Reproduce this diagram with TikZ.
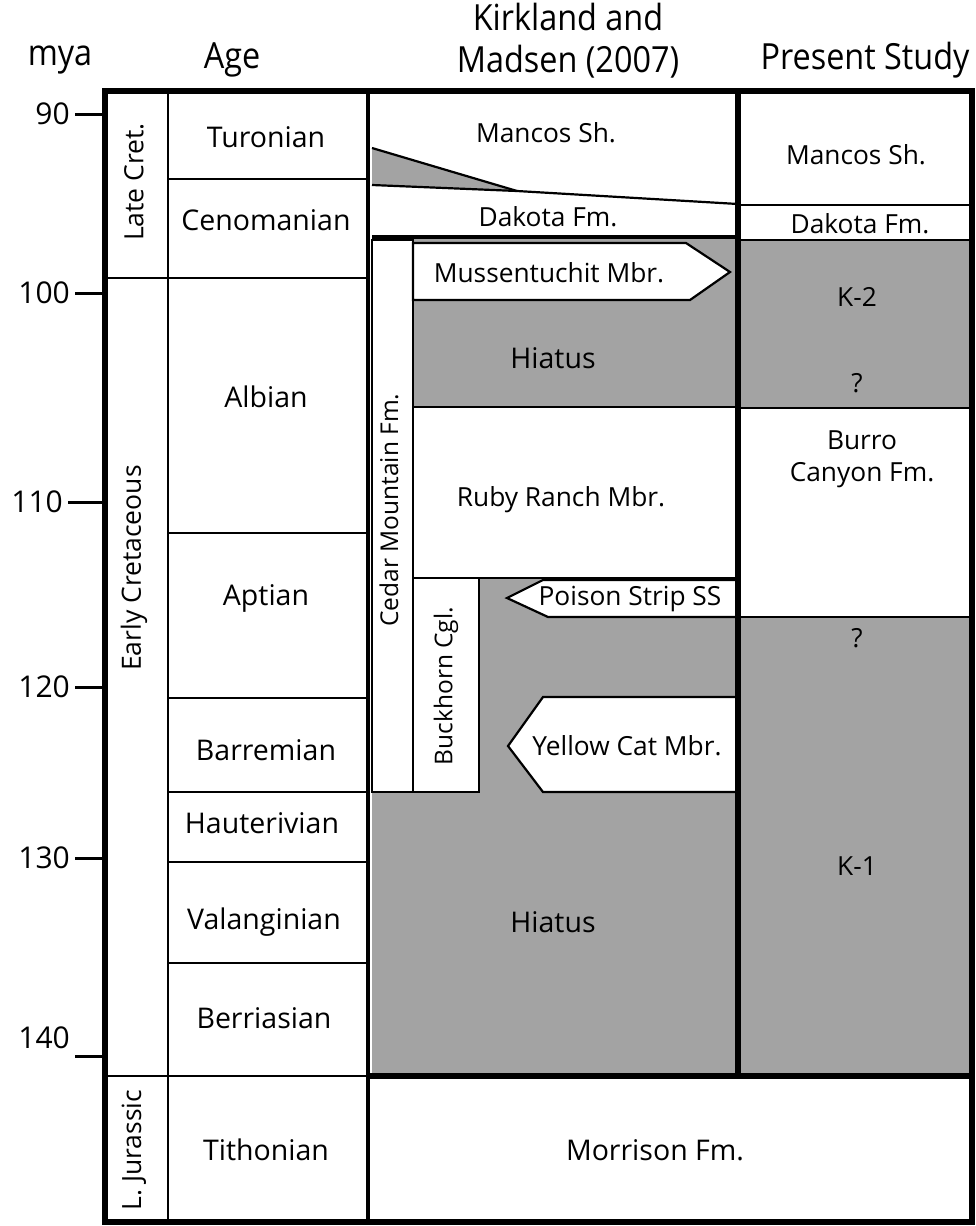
\documentclass[tikz,border=0pt]{standalone}
\usepackage{fontspec}
\setmainfont{Open Sans}
\definecolor{hgray}{RGB}{163,163,163}
\begin{document}
\begin{tikzpicture}[x=1pt,y=-1pt,
  thinln/.style={line width=2.2pt},
  thickln/.style={line width=5.5pt},
  midln/.style={line width=4pt},
  tickln/.style={line width=3pt},
  lbl/.style={inner sep=0pt,font=\fontsize{26.3}{30}\selectfont},
  agelbl/.style={inner sep=0pt,font=\fontsize{28.5}{32}\selectfont},
  epochlbl/.style={inner sep=0pt,rotate=90,font=\fontsize{26.5}{30}\selectfont},
  hdr/.style={inner sep=0pt,font=\fontsize{36}{42}\selectfont,align=center},
  ticklbl/.style={inner sep=0pt,anchor=east,font=\fontsize{30}{32}\selectfont},
  unit/.style={thinln,fill=white,line join=miter}]
\useasboundingbox (0,0) rectangle (976,1226);
% gray fills
\fill[hgray] (372,236) rectangle (738,1076);
\fill[hgray] (738,240) rectangle (972,408);
\fill[hgray] (738,617) rectangle (972,1076);
\fill[hgray] (372,148) -- (517,191) -- (372,185) -- cycle;
% Kirkland units
\draw[thinln] (372,148) -- (517,191);
\draw[thinln] (372,185) -- (517,191) -- (738,204);
\draw[midln] (372,237) -- (738,237);
\draw[unit] (372,240) rectangle (413,792);
\draw[unit] (413,243) -- (686,243) -- (730,272) -- (690,300) -- (413,300) -- cycle;
\draw[unit] (413,407) rectangle (738,578);
\draw[unit] (413,578) rectangle (479,792);
\draw[unit] (738,580) -- (543,580) -- (507,598) -- (548,617) -- (738,617);
\draw[unit] (738,697) -- (543,697) -- (508,746) -- (543,792) -- (738,792);
% Present study lines
\draw[thinln] (738,205) -- (972,205);
\draw[thinln] (738,240) -- (972,240);
\draw[thinln] (738,408) -- (972,408);
\draw[thinln] (738,617) -- (972,617);
% Age column lines
\draw[thinln] (168,179) -- (368,179);
\draw[thinln] (105,278) -- (368,278);
\draw[thinln] (168,533) -- (368,533);
\draw[thinln] (168,698) -- (368,698);
\draw[thinln] (168,792) -- (368,792);
\draw[thinln] (168,862) -- (368,862);
\draw[thinln] (168,963) -- (368,963);
\draw[thinln] (105,1076) -- (368,1076);
\draw[thickln] (368,1076) -- (972,1076);
\draw[thinln] (168,91) -- (168,1222);
\draw[midln] (368,91) -- (368,1222);
\draw[thickln] (738,91) -- (738,1076);
\draw[thickln] (105,91) rectangle (972,1222);
% ticks
\foreach \y in {114,293,687,858,1056} \draw[tickln] (75,\y) -- (103,\y);
\draw[tickln] (68,502) -- (103,502);
\node[ticklbl] (t90) at (70,114) {90};
\node[ticklbl] (t100) at (70,293) {100};
\node[ticklbl] (t110) at (63,502) {110};
\node[ticklbl] (t120) at (70,687) {120};
\node[ticklbl] (t130) at (70,858) {130};
\node[ticklbl] (t140) at (70,1038) {140};
% headers
\node[hdr] (hmya) at (60,60) {\scalebox{0.9}[1]{mya}};
\node[hdr] (hage) at (232,60) {\scalebox{0.9}[1]{Age}};
\node[hdr] (hkm) at (568,41) {\scalebox{0.9}[1]{Kirkland and}\\\scalebox{0.9}[1]{Madsen (2007)}};
\node[hdr] (hps) at (865,60) {\scalebox{0.9}[1]{Present Study}};
% epochs
\node[epochlbl] (late) at (134,182) {Late Cret.};
\node[epochlbl] (early) at (134,568) {Early Cretaceous};
\node[epochlbl] (jur) at (134,1150) {L. Jurassic};
% ages
\node[agelbl] (tur) at (266,137) {Turonian};
\node[agelbl] (cen) at (266,220) {Cenomanian};
\node[agelbl] (alb) at (266,397) {Albian};
\node[agelbl] (apt) at (266,598) {Aptian};
\node[agelbl] (bar) at (266,750) {Barremian};
\node[agelbl] (hau) at (262,823) {Hauterivian};
\node[agelbl] (val) at (264,922) {Valanginian};
\node[agelbl] (ber) at (264,1018) {Berriasian};
\node[agelbl] (tit) at (266,1150) {Tithonian};
% Kirkland labels
\node[lbl] (km1) at (546,133) {Mancos Sh.};
\node[lbl] (kd) at (548,217) {Dakota Fm.};
\node[lbl] (kmus) at (549,273) {Mussentuchit Mbr.};
\node[agelbl] (kh1) at (553,358) {Hiatus};
\node[lbl] (krr) at (561,500) {Ruby Ranch Mbr.};
\node[lbl] (kps) at (630,599) {Poison Strip SS};
\node[lbl] (kyc) at (627,746) {Yellow Cat Mbr.};
\node[agelbl] (kh2) at (553,922) {Hiatus};
\node[lbl,rotate=90,font=\fontsize{24.5}{28}\selectfont] (kcm) at (389,510) {Cedar Mountain Fm.};
\node[lbl,rotate=90,font=\fontsize{24.5}{28}\selectfont] (kbc) at (446,686) {Buckhorn Cgl.};
\node[agelbl] (mor) at (655,1150) {Morrison Fm.};
% present study labels
\node[lbl] (pm) at (856,155) {Mancos Sh.};
\node[lbl] (pd) at (860,224) {Dakota Fm.};
\node[lbl] (pk2) at (857,297) {K-2};
\node[lbl] (pq1) at (857,383) {?};
\node[lbl,align=center,font=\fontsize{26.3}{32}\selectfont] (pbc) at (862,459) {Burro\\Canyon Fm.};
\node[lbl] (pq2) at (857,638) {?};
\node[lbl] (pk1) at (857,866) {K-1};
\end{tikzpicture}
\end{document}
